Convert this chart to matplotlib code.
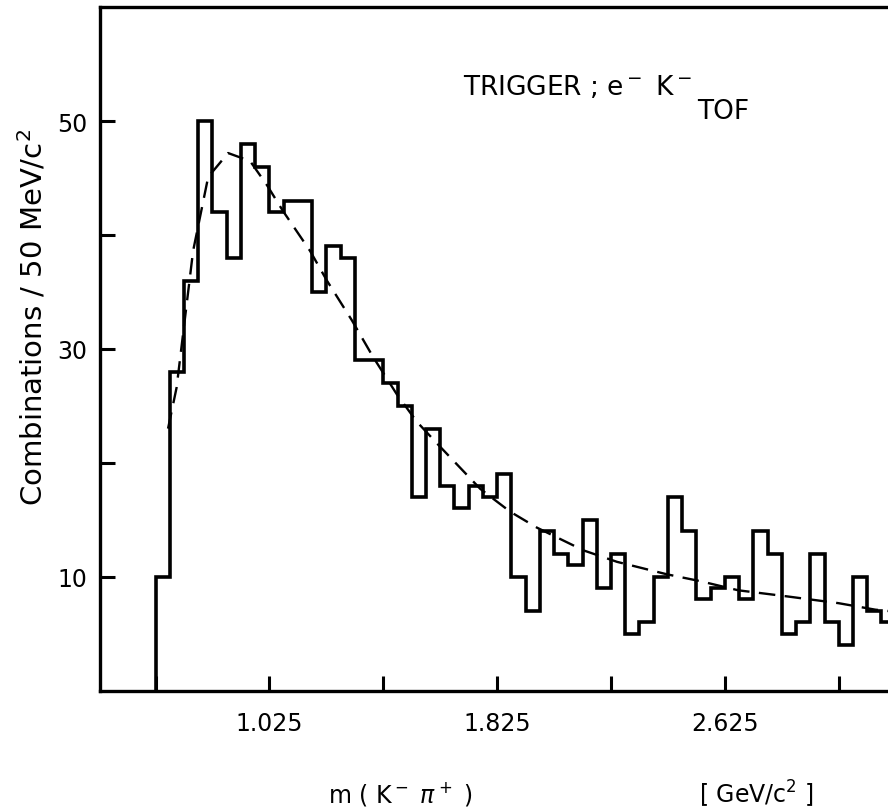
import numpy as np
import matplotlib
matplotlib.use("Agg")
import matplotlib.pyplot as plt

# ---------------- data ----------------
bin_start = 0.625          # GeV/c^2, lower edge of first bin
bin_width = 0.05           # 50 MeV/c^2
counts = [10, 28, 36, 50, 42, 38, 48, 46, 42, 43,
          43, 35, 39, 38, 29, 29, 27, 25, 17, 23,
          18, 16, 18, 17, 19, 10, 7, 14, 12, 11,
          15, 9, 12, 5, 6, 10, 17, 14, 8, 9,
          10, 8, 14, 12, 5, 6, 12, 6, 4, 10,
          7, 6]

fit_mass = [0.669, 0.699, 0.757, 0.810, 0.880, 0.957, 1.016, 1.073, 1.168,
            1.227, 1.315, 1.389, 1.473, 1.543, 1.625, 1.766, 1.871, 1.965,
            2.129, 2.246, 2.422, 2.539, 2.672, 2.848, 3.024, 3.153, 3.230]
fit_counts = [23.0, 26.6, 38.6, 45.1, 47.2, 46.5, 44.4, 42.1, 38.6,
              36.0, 32.5, 29.3, 26.0, 23.6, 21.4, 17.7, 15.7, 14.3,
              12.3, 11.3, 10.2, 9.6, 8.8, 8.25, 7.67, 7.1, 6.9]

x_major = [0.625, 1.025, 1.425, 1.825, 2.225, 2.625, 3.025]
x_labels = ["", "1.025", "", "1.825", "", "2.625", ""]
y_major = [10, 20, 30, 40, 50]
y_labels = ["10", "", "30", "", "50"]

# ---------------- figure ----------------
plt.rcParams['font.family'] = ['DejaVu Sans']
plt.rcParams['mathtext.fontset'] = 'dejavusans'

W, H = 888, 812
fig = plt.figure(figsize=(W / 100, H / 100), dpi=100)
ax_l, ax_r, ax_t, ax_b = 100, 896, 8.3, 691.5
ax = fig.add_axes([ax_l / W, 1 - ax_b / H, (ax_r - ax_l) / W, (ax_b - ax_t) / H])

edges = bin_start + bin_width * np.arange(len(counts) + 1)
ax.stairs(counts, edges, baseline=0, color='black', linewidth=2.6)
ax.plot(fit_mass, fit_counts, color='black', linewidth=1.7,
        linestyle=(0, (7, 4)))

ax.set_xlim(0.430, 3.226)
ax.set_ylim(0, 60)

for s in ax.spines.values():
    s.set_linewidth(2.4)
ax.spines['right'].set_visible(False)

ax.set_xticks(x_major)
ax.set_xticklabels(x_labels)
ax.set_yticks(y_major)
ax.set_yticklabels(y_labels)
ax.tick_params(axis='both', direction='in', length=11, width=2.2,
               labelsize=17, color='black')
ax.tick_params(axis='x', pad=15)
ax.tick_params(axis='y', pad=9)

# axis titles
fig.text(33 / W, 1 - 318 / H, "Combinations / 50 MeV/c$^2$", rotation=90,
         ha='center', va='center', fontsize=21)
fig.text(400 / W, 1 - 794 / H, r"m ( K$^-$ $\pi^+$ )", ha='center',
         va='center', fontsize=17)
fig.text(756 / W, 1 - 794 / H, "[ GeV/c$^2$ ]", ha='center', va='center',
         fontsize=17)

# annotation
fig.text(463 / W, 1 - 95 / H, "TRIGGER ; e$^-$ K$^-$", ha='left',
         va='baseline', fontsize=19)
fig.text(697 / W, 1 - 119 / H, "TOF", ha='left', va='baseline', fontsize=19)

fig.savefig("out.png", dpi=100)
